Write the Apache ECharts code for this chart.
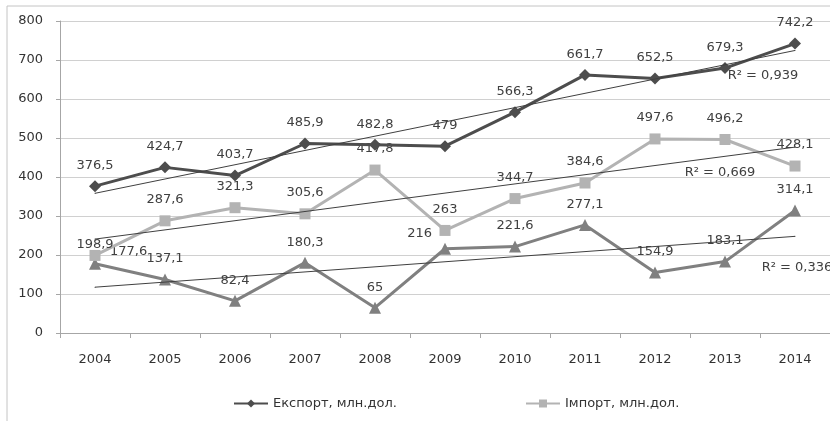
<!DOCTYPE html>
<html>
<head>
<meta charset="utf-8">
<script src="https://cdn.jsdelivr.net/npm/echarts@6/dist/echarts.min.js"></script>
<style>
html,body{margin:0;padding:0;background:#fff;}
#c{width:830px;height:421px;}
</style>
</head>
<body>
<div id="c"></div>
<script>
var years = ['2004','2005','2006','2007','2008','2009','2010','2011','2012','2013','2014'];
var exportVals = [376.5, 424.7, 403.7, 485.9, 482.8, 479, 566.3, 661.7, 652.5, 679.3, 742.2];
var importVals = [198.9, 287.6, 321.3, 305.6, 417.8, 263, 344.7, 384.6, 497.6, 496.2, 428.1];
var saldoVals = [177.6, 137.1, 82.4, 180.3, 65, 216, 221.6, 277.1, 154.9, 183.1, 314.1];
// trend line end values (2004, 2014)
var exportTrend = [358.2, 724.4];
var importTrend = [240.8, 476.6];
var saldoTrend = [117.5, 247.8];
var r2Labels = ['R\u00B2 = 0,939', 'R\u00B2 = 0,669', 'R\u00B2 = 0,336'];
var yTicks = [0, 100, 200, 300, 400, 500, 600, 700, 800];
var seriesNames = ['Експорт, млн.дол.', 'Імпорт, млн.дол.', 'Сальдо, млн.дол.'];

var FONT = 'DejaVu Sans';
function fmt(v) { return String(v).replace('.', ','); }

function trendData(ends, r2, labelOffset) {
  var d = [];
  for (var i = 0; i < years.length; i++) d.push(null);
  d[0] = ends[0];
  d[years.length - 1] = {
    value: ends[1],
    label: {
      show: true, position: 'inside', offset: labelOffset,
      formatter: r2, color: '#404040', fontFamily: FONT, fontSize: 13
    }
  };
  return d;
}

function valueLabels(vals, overrides) {
  return vals.map(function (v, i) {
    var item = { value: v };
    if (overrides && overrides[i]) item.label = overrides[i];
    return item;
  });
}

var labelBase = {
  show: true, position: 'top', color: '#404040', fontFamily: FONT, fontSize: 13,
  formatter: function (p) { return fmt(p.value); }
};

var chart = echarts.init(document.getElementById('c'), null, { renderer: 'canvas' });
chart.setOption({
  animation: false,
  backgroundColor: '#fff',
  textStyle: { fontFamily: FONT },
  graphic: [{
    type: 'rect', shape: { x: 7, y: 6, width: 830, height: 430 },
    style: { fill: 'none', stroke: '#c4c4c4', lineWidth: 1 }, z: -10
  }],
  grid: { left: 60, right: 0, top: 21, bottom: 88 },
  legend: [{
    left: 228, top: 392, itemWidth: 34, itemHeight: 10, itemGap: 4,
    data: [seriesNames[0]],
    textStyle: { color: '#333', fontFamily: FONT, fontSize: 13 }
  }, {
    left: 520, top: 392, itemWidth: 34, itemHeight: 10, itemGap: 4,
    data: [seriesNames[1]],
    textStyle: { color: '#333', fontFamily: FONT, fontSize: 13 }
  }],
  xAxis: {
    type: 'category', data: years, boundaryGap: true,
    axisLine: { lineStyle: { color: '#a6a6a6', width: 1 } },
    axisTick: { show: true, length: 5, interval: 0, lineStyle: { color: '#a6a6a6' } },
    axisLabel: { color: '#333', fontFamily: FONT, fontSize: 13, margin: 20 }
  },
  yAxis: {
    type: 'value', min: 0, max: 800, interval: 100,
    axisLine: { show: true, lineStyle: { color: '#a6a6a6', width: 1 } },
    axisTick: { show: true, length: 4, lineStyle: { color: '#a6a6a6' } },
    axisLabel: { color: '#333', fontFamily: FONT, fontSize: 13, margin: 17,
      formatter: function (v) { return yTicks.indexOf(v) >= 0 ? String(v) : ''; } },
    splitLine: { show: true, lineStyle: { color: '#d0d0d0', width: 1 } }
  },
  series: [{
    name: seriesNames[0], type: 'line', data: valueLabels(exportVals),
    symbol: 'diamond', symbolSize: 12, z: 4,
    lineStyle: { color: '#4d4d4d', width: 3 },
    itemStyle: { color: '#4d4d4d' },
    label: Object.assign({}, labelBase, { distance: 8 })
  }, {
    name: seriesNames[1], type: 'line',
    data: valueLabels(importVals, { 0: { distance: -1 } }),
    symbol: 'rect', symbolSize: 11, z: 3,
    lineStyle: { color: '#b3b3b3', width: 3 },
    itemStyle: { color: '#b3b3b3' },
    label: Object.assign({}, labelBase, { distance: 9 })
  }, {
    name: seriesNames[2], type: 'line',
    data: valueLabels(saldoVals, {
      0: { position: 'right', distance: 9, offset: [0, -12] },
      5: { position: 'left', distance: 7, offset: [0, -15] }
    }),
    symbol: 'triangle', symbolSize: 12, z: 2,
    lineStyle: { color: '#808080', width: 3 },
    itemStyle: { color: '#808080' },
    label: Object.assign({}, labelBase, { distance: 8 })
  }, {
    name: 'trendExport', type: 'line', connectNulls: true,
    data: trendData(exportTrend, r2Labels[0], [-32, 25]),
    symbol: 'circle', symbolSize: 1, z: 6, silent: true,
    lineStyle: { color: '#404040', width: 1 }, itemStyle: { color: '#404040' }
  }, {
    name: 'trendImport', type: 'line', connectNulls: true,
    data: trendData(importTrend, r2Labels[1], [-75, 25]),
    symbol: 'circle', symbolSize: 1, z: 6, silent: true,
    lineStyle: { color: '#404040', width: 1 }, itemStyle: { color: '#404040' }
  }, {
    name: 'trendSaldo', type: 'line', connectNulls: true,
    data: trendData(saldoTrend, r2Labels[2], [2, 31]),
    symbol: 'circle', symbolSize: 1, z: 6, silent: true,
    lineStyle: { color: '#404040', width: 1 }, itemStyle: { color: '#404040' }
  }]
});
</script>
</body>
</html>
